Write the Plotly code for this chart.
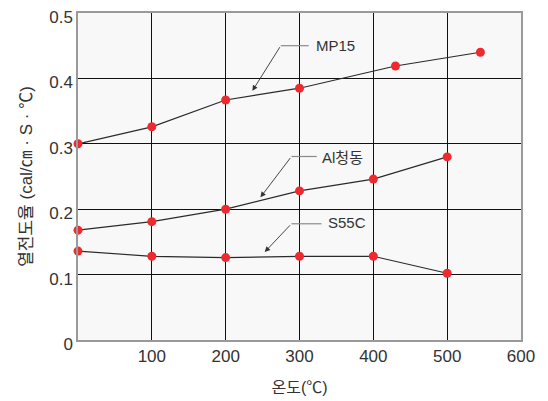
import plotly.graph_objects as go

temps_mp15 = [0, 100, 200, 300, 430, 545]
mp15 = [0.300, 0.326, 0.367, 0.385, 0.419, 0.440]

temps_al = [0, 100, 200, 300, 400, 500]
al_bronze = [0.168, 0.181, 0.200, 0.228, 0.246, 0.280]

temps_s55c = [0, 100, 200, 300, 400, 500]
s55c = [0.136, 0.128, 0.126, 0.128, 0.128, 0.102]

x_ticks = [100, 200, 300, 400, 500, 600]
y_ticks = [0, 0.1, 0.2, 0.3, 0.4, 0.5]
y_tick_text = ["0", "0.1", "0.2", "0.3", "0.4", "0.5"]

series = [("MP15", temps_mp15, mp15), ("Al청동", temps_al, al_bronze), ("S55C", temps_s55c, s55c)]

fig = go.Figure()
for name, xs, ys in series:
    fig.add_trace(go.Scatter(
        x=xs, y=ys, mode="lines+markers", name=name,
        line=dict(color="#2a2a2a", width=1.2),
        marker=dict(color="#ee2a2e", size=9, line=dict(width=0)),
        cliponaxis=False, showlegend=False,
    ))

# leader annotations: (label, text pos, knee, horizontal end, arrow head)
leaders = [
    ("MP15", (319, 0.450), (274.6, 0.450), (312.5, 0.450), (236.2, 0.381)),
    ("Al청동", (327.5, 0.279), (289.1, 0.2806), (323.4, 0.2806), (247.1, 0.2182)),
    ("S55C", (335.6, 0.179), (289.1, 0.1777), (329.8, 0.1777), (252.9, 0.1345)),
]
for label, tpos, knee, hend, head in leaders:
    fig.add_shape(type="line", x0=knee[0], y0=knee[1], x1=hend[0], y1=hend[1],
                  line=dict(color="#8a8a8a", width=1.2), xref="x", yref="y")
    fig.add_annotation(x=head[0], y=head[1], ax=knee[0], ay=knee[1],
                       xref="x", yref="y", axref="x", ayref="y",
                       text="", showarrow=True, arrowhead=2, arrowsize=1.2,
                       arrowwidth=0.9, arrowcolor="#333333", standoff=0)
    fig.add_annotation(x=tpos[0], y=tpos[1], xref="x", yref="y", text=label,
                       showarrow=False, xanchor="left", yanchor="middle",
                       font=dict(family="Liberation Sans, Noto Sans CJK KR", size=15, color="#333333"))

fig.update_layout(
    width=548, height=401,
    margin=dict(l=78, r=27, t=13, b=61),
    paper_bgcolor="white", plot_bgcolor="#f8f8f8",
    font=dict(family="Liberation Sans, Noto Sans CJK KR", color="#333333"),
)
fig.update_xaxes(
    range=[0, 600], tickvals=x_ticks, ticks="", showgrid=True, automargin=False,
    gridcolor="#111111", gridwidth=1,
    showline=True, linecolor="#9a9a9a", linewidth=1.5, mirror=True, zeroline=False,
    tickfont=dict(size=17, color="#333333"),
    title=dict(text="온도(℃)", font=dict(size=16, color="#333333"), standoff=17),
)
fig.update_yaxes(
    range=[0, 0.5], tickvals=y_ticks, ticktext=y_tick_text, ticks="", showgrid=True, automargin=False,
    gridcolor="#111111", gridwidth=1, ticklabelshift=4,
    showline=True, linecolor="#9a9a9a", linewidth=1.5, mirror=True, zeroline=False,
    tickfont=dict(size=17, color="#333333"),
    title=dict(text="열전도율 (cal/㎝ · S · ℃)", font=dict(size=17, color="#333333"), standoff=12),
)
fig.write_html("out.html")
